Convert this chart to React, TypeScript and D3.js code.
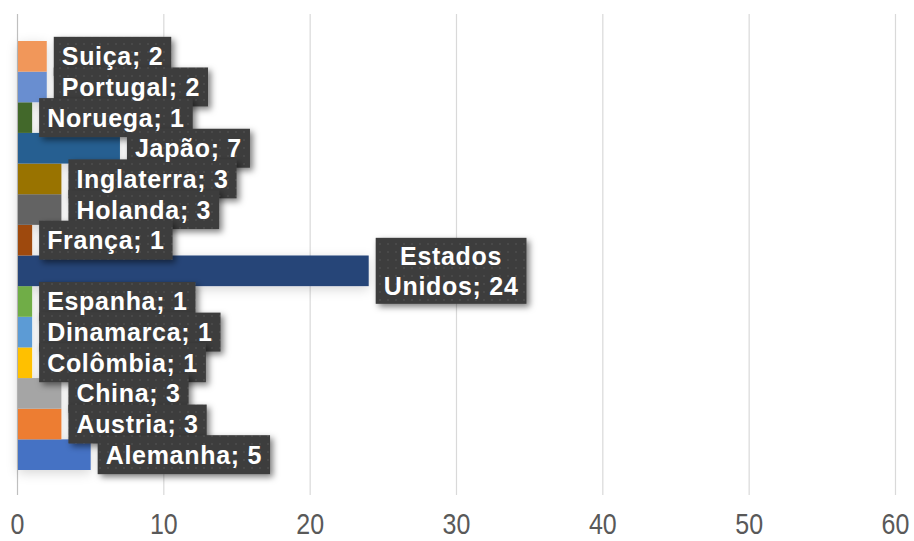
import React, { useEffect, useRef } from "react";
import * as d3 from "d3";

const categories = [
  "Alemanha", "Austria", "China", "Colômbia", "Dinamarca", "Espanha",
  "Estados Unidos", "França", "Holanda", "Inglaterra", "Japão", "Noruega",
  "Portugal", "Suiça",
];
const values = [5, 3, 3, 1, 1, 1, 24, 1, 3, 3, 7, 1, 2, 2];
const colors = [
  "#4472C4", "#ED7D31", "#A5A5A5", "#FFC000", "#5B9BD5", "#70AD47",
  "#264478", "#9E480E", "#636363", "#997300", "#255E91", "#43682B",
  "#698ED0", "#F1975A",
];
const xTicks = [0, 10, 20, 30, 40, 50, 60];

const W = 914;
const H = 541;
const FONT = "'Liberation Sans', Arial, sans-serif";

export default function App() {
  const ref = useRef<SVGSVGElement | null>(null);

  useEffect(() => {
    const svg = d3.select(ref.current);
    svg.selectAll("*").remove();

    const defs = svg.append("defs");
    const pat = defs
      .append("pattern")
      .attr("id", "dots")
      .attr("width", 8)
      .attr("height", 8)
      .attr("patternUnits", "userSpaceOnUse");
    pat.append("rect").attr("width", 8).attr("height", 8).attr("fill", "#3c3c3c");
    pat.append("circle").attr("cx", 4).attr("cy", 4).attr("r", 1.1).attr("fill", "#4b4b4b");

    const boxShadow = defs.append("filter").attr("id", "boxShadow")
      .attr("x", "-20%").attr("y", "-30%").attr("width", "150%").attr("height", "180%");
    boxShadow.append("feDropShadow")
      .attr("dx", 3).attr("dy", 3).attr("stdDeviation", 3)
      .attr("flood-color", "#000").attr("flood-opacity", 0.5);

    const barShadow = defs.append("filter").attr("id", "barShadow")
      .attr("x", "-20%").attr("y", "-20%").attr("width", "140%").attr("height", "140%");
    barShadow.append("feDropShadow")
      .attr("dx", 0).attr("dy", 3).attr("stdDeviation", 6)
      .attr("flood-color", "#000").attr("flood-opacity", 0.16);

    const x = d3.scaleLinear().domain([0, 60]).range([17.5, 895.5]);
    const y = d3
      .scaleBand<string>()
      .domain([...categories].reverse())
      .range([41, 470])
      .paddingInner(0)
      .paddingOuter(0);

    // gridlines
    svg.append("g")
      .selectAll("line")
      .data(xTicks)
      .join("line")
      .attr("x1", (d) => x(d))
      .attr("x2", (d) => x(d))
      .attr("y1", 14)
      .attr("y2", 495)
      .attr("stroke", (d) => (d === 0 ? "#bfbfbf" : "#d9d9d9"))
      .attr("stroke-width", 1.2);

    // tick labels (vertically stretched like the reference)
    svg.append("g")
      .selectAll("text")
      .data(xTicks)
      .join("text")
      .attr("transform", (d) => `translate(${x(d)},533.5) scale(1,1.2)`)
      .attr("text-anchor", "middle")
      .attr("font-family", FONT)
      .attr("font-size", 25)
      .attr("fill", "#595959")
      .text((d) => String(d));

    // bars
    const data = categories.map((c, i) => ({ c, v: values[i], col: colors[i] }));
    svg.append("g")
      .attr("filter", "url(#barShadow)")
      .selectAll("rect")
      .data(data)
      .join("rect")
      .attr("x", x(0) + 0.5)
      .attr("y", (d) => y(d.c)!)
      .attr("width", (d) => x(d.v) - x(0) - 0.5)
      .attr("height", y.bandwidth())
      .attr("fill", (d) => d.col);

    // labels: boxes first, texts on top
    const boxLayer = svg.append("g");
    const textLayer = svg.append("g");
    const ordered = [...data].reverse();
    ordered.forEach((d) => {
      const cy = y(d.c)! + y.bandwidth() / 2;
      const parts = d.c.split(" ");
      const lines =
        parts.length > 1
          ? [parts[0], parts.slice(1).join(" ") + "; " + d.v]
          : [d.c + "; " + d.v];
      const rect = boxLayer.append("rect").attr("fill", "url(#dots)").attr("filter", "url(#boxShadow)");
      const bx = x(d.v) + 7;
      const texts = lines.map((ln) =>
        textLayer.append("text")
          .attr("font-family", FONT)
          .attr("font-weight", "bold")
          .attr("font-size", 25)
          .attr("letter-spacing", 0.7)
          .attr("fill", "#ffffff")
          .style("white-space", "pre")
          .text(ln)
      );
      const widths = texts.map((t) => (t.node() as SVGTextElement).getBBox().width);
      const tw = Math.max(...widths);
      const padX = 8;
      const bw = tw + padX * 2;
      const bh = lines.length > 1 ? 66 : 39;
      rect.attr("x", bx).attr("y", cy - bh / 2).attr("width", bw).attr("height", bh);
      if (lines.length > 1) {
        texts.forEach((t, i) => {
          t.attr("x", bx + bw / 2)
            .attr("text-anchor", "middle")
            .attr("y", cy - 6 + i * 30);
        });
      } else {
        texts[0].attr("x", bx + padX).attr("y", cy + 9);
      }
    });
  }, []);

  return (
    <svg
      ref={ref}
      width={W}
      height={H}
      style={{ position: "fixed", left: 0, top: 0, background: "#ffffff" }}
    />
  );
}
